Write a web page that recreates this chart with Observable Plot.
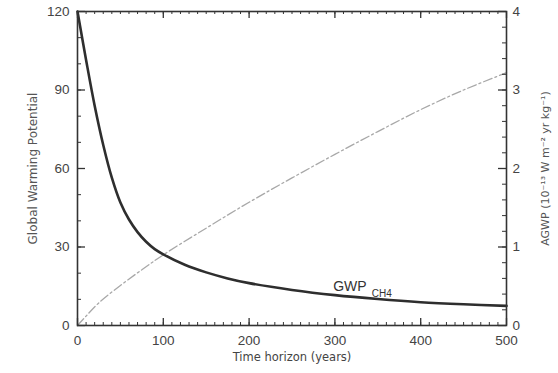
<!DOCTYPE html>
<html><head><meta charset="utf-8">
<script src="https://cdn.jsdelivr.net/npm/d3@7"></script>
<script src="https://cdn.jsdelivr.net/npm/@observablehq/plot@0.6"></script>
<style>
body{margin:0;background:#fff;}
#chart svg{display:block;}
</style>
</head><body><div id="chart"></div>
<script>
// GWP of CH4 (left axis)
const gwpYears = [0,10,20,30,40,50,60,70,80,90,100,125,150,175,200,250,300,350,400,450,500];
const gwpValues = [120,101.5,84,69,56.5,47,40.5,35.7,32,29.2,27.2,23.2,20.3,18,16.2,13.6,11.6,10.1,8.9,8.1,7.5];
// AGWP of CO2 (right axis, 10^-13 W m^-2 yr kg^-1)
const agwpYears = [0,10,25,50,75,100,150,200,250,300,350,400,450,500];
const agwpValues = [0,0.12,0.29,0.51,0.71,0.9,1.24,1.57,1.88,2.18,2.47,2.75,3.0,3.22];
const xTicks = [0,100,200,300,400,500];
const yTicks = [0,30,60,90,120];
const rightTicks = [0,1,2,3,4];
const labelMain = ["GWP"];
const labelSub = ["CH4"];
const labelAt = {x: 298, y: 13.2, xs: 343, ys: 11.0};

const k = 120 / 4; // right-axis units onto left scale
const gwp = gwpYears.map((t, i) => ({t, v: gwpValues[i]}));
const agwp = agwpYears.map((t, i) => ({t, v: agwpValues[i] * k}));

const W = 558, H = 373, mL = 77, mR = 52, mT = 11, mB = 48;
const pw = W - mL - mR, ph = H - mT - mB;
const axisColor = "#333";
const font = "Liberation Sans, Arial, sans-serif";
const titleFont = "DejaVu Sans, sans-serif";

const chart = Plot.plot({
  width: W, height: H,
  marginLeft: mL, marginRight: mR, marginTop: mT, marginBottom: mB,
  style: {fontFamily: font, color: "#444", background: "#fff"},
  x: {domain: [0, 500]},
  y: {domain: [0, 120]},
  marks: [
    Plot.line(agwp, {x: "t", y: "v", stroke: "#a8a8a8", strokeWidth: 1.3, strokeDasharray: "9,3,2,3", curve: "catmull-rom"}),
    Plot.line(gwp, {x: "t", y: "v", stroke: "#2e2e2e", strokeWidth: 2.6, curve: "catmull-rom"}),
    Plot.frame({stroke: axisColor, strokeWidth: 1.6}),
    // inward ticks: bottom & top
    Plot.tickX(d3.range(0, 501, 10), {x: d => d, insetTop: ph - 3, stroke: axisColor}),
    Plot.tickX(d3.range(0, 501, 10), {x: d => d, insetBottom: ph - 3, stroke: axisColor}),
    Plot.tickX(xTicks, {x: d => d, insetTop: ph - 7, stroke: axisColor, strokeWidth: 1.3}),
    Plot.tickX(xTicks, {x: d => d, insetBottom: ph - 7, stroke: axisColor, strokeWidth: 1.3}),
    // left
    Plot.tickY(d3.range(0, 121, 10), {y: d => d, insetRight: pw - 4, stroke: axisColor}),
    Plot.tickY(yTicks, {y: d => d, insetRight: pw - 8, stroke: axisColor, strokeWidth: 1.3}),
    // right
    Plot.tickY(d3.range(0, 4.01, 0.2).map(d => d * k), {y: d => d, insetLeft: pw - 4, stroke: axisColor}),
    Plot.tickY(rightTicks.map(d => d * k), {y: d => d, insetLeft: pw - 8, stroke: axisColor, strokeWidth: 1.3}),
    // tick labels
    Plot.axisX(xTicks, {anchor: "bottom", tickSize: 0, tickPadding: 10, fontSize: 13.5, label: null}),
    Plot.axisY(yTicks, {anchor: "left", tickSize: 0, tickPadding: 8, fontSize: 13.5, label: null}),
    Plot.axisY(rightTicks.map(d => d * k), {anchor: "right", tickSize: 0, tickPadding: 6, fontSize: 13.5, tickFormat: d => d / k, label: null}),
    // axis titles
    Plot.text(["Global Warming Potential"], {frameAnchor: "left", textAnchor: "middle", lineAnchor: "middle", dx: -44, rotate: -90, fontSize: 12, fontFamily: titleFont, fill: "#555"}),
    Plot.text(["Time horizon (years)"], {frameAnchor: "bottom", textAnchor: "middle", lineAnchor: "middle", dy: 32, fontSize: 11.5, fontFamily: titleFont, fill: "#444"}),
    Plot.text(["AGWP (10⁻¹³ W m⁻² yr kg⁻¹)"], {frameAnchor: "right", textAnchor: "middle", lineAnchor: "middle", dx: 39, rotate: -90, fontSize: 11, fontFamily: titleFont, fill: "#555"}),
    // curve label
    Plot.text(labelMain, {x: () => labelAt.x, y: () => labelAt.y, text: d => d, textAnchor: "start", lineAnchor: "bottom", fontSize: 14, fill: "#333"}),
    Plot.text(labelSub, {x: () => labelAt.xs, y: () => labelAt.ys, text: d => d, textAnchor: "start", lineAnchor: "bottom", fontSize: 10, fill: "#333"})
  ]
});
document.getElementById("chart").appendChild(chart);
</script>
</body></html>
